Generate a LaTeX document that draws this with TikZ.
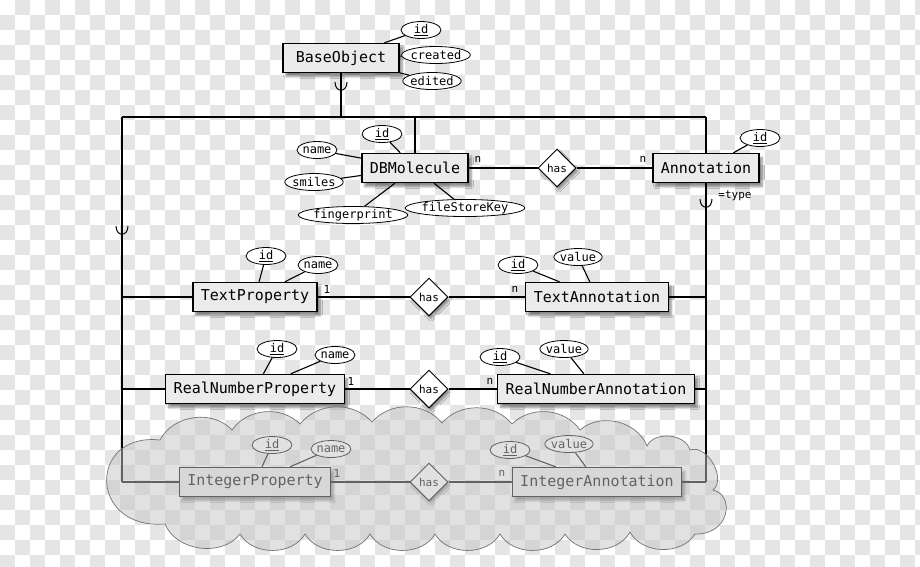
\documentclass[tikz,border=0pt]{standalone}
\usepackage{fontspec}
\setmainfont{DejaVu Sans Mono}
\usetikzlibrary{shapes.geometric,shadows.blur,positioning,calc}
\definecolor{boxgrey}{HTML}{EBEBEB}
\definecolor{checkgrey}{HTML}{E5E5E5}
\definecolor{cloudgrey}{HTML}{C4C4C4}

\begin{document}
\begin{tikzpicture}[x=1pt,y=-1pt,-,line width=1.1pt,
    entity/.style={rectangle,draw,line width=1.4pt,fill=boxgrey,inner xsep=8pt,minimum height=29pt,
        font=\fontsize{15}{15}\selectfont,
        blur shadow={shadow xshift=3pt,shadow yshift=-4pt,shadow blur steps=6,shadow opacity=45}},
    attr/.style={ellipse,draw,line width=0.8pt,fill=white,inner xsep=-1pt,inner ysep=0pt,
        minimum height=17pt,minimum width=40pt,font=\fontsize{12}{12}\selectfont},
    rel/.style={diamond,draw,line width=1pt,fill=white,aspect=1,inner sep=0pt,minimum size=38pt,
        font=\fontsize{11}{11}\selectfont,
        blur shadow={shadow xshift=2pt,shadow yshift=-3pt,shadow blur steps=5,shadow opacity=40}},
    card/.style={font=\fontsize{11}{11}\selectfont,inner sep=0pt},
    isamark/.pic={\draw[line width=1pt] (-6,-6) .. controls (-6,5) and (6,5) .. (6,-6);}]

    \useasboundingbox (0,0) rectangle (920,566);
    \clip (0,0) rectangle (920,566);

    % checkerboard
    \foreach \i in {1,3,...,61}
        \foreach \j in {0,2,...,36}
            \fill[checkgrey] ({15*\i},{15*\j}) rectangle ++(15,15);
    \foreach \i in {0,2,...,60}
        \foreach \j in {1,3,...,37}
            \fill[checkgrey] ({15*\i},{15*\j}) rectangle ++(15,15);

    % frame of the hierarchy
    \coordinate (topL) at (122,117);
    \coordinate (topR) at (706,117);
    \coordinate (botL) at (122,482);
    \coordinate (botR) at (706,482);

    \node[entity,minimum width=116pt] (base) at (341,58) {BaseObject};
    \node[attr] (baseid) at (421,30) {\underline{id}};
    \node[attr] (basecreated) at (436,55) {created};
    \node[attr] (baseedited) at (432,81) {edited};

    \node[entity] (mol) at (415,168) {DBMolecule};
    \node[attr] (molid) at (382,134) {\underline{id}};
    \node[attr] (molname) at (317,150) {name};
    \node[attr] (molsmiles) at (314,182) {smiles};
    \node[attr] (molfp) at (353,215) {fingerprint};
    \node[attr] (molkey) at (465,208) {fileStoreKey};
    \node[rel] (hasmol) at (557,168) {has};
    \node[entity] (annot) at (706,168) {Annotation};
    \node[attr] (annotid) at (760,138) {\underline{id}};
    \node[card] (nmol) at (478,159) {n};
    \node[card] (nannot) at (643,159) {n};
    \node[card] (typelbl) at (735,196) {=type};

    \node[entity] (tprop) at (255,297) {TextProperty};
    \node[attr] (tpropid) at (266,256) {\underline{id}};
    \node[attr] (tpropname) at (318,265) {name};
    \node[rel] (hast) at (429,297) {has};
    \node[entity] (tann) at (597,297) {TextAnnotation};
    \node[attr] (tannid) at (518,265) {\underline{id}};
    \node[attr] (tannval) at (578,257) {value};
    \node[card] (onet) at (327,289) {1};
    \node[card] (nt) at (515,289) {n};

    \node[entity] (rprop) at (255,389) {RealNumberProperty};
    \node[attr] (rpropid) at (277,349) {\underline{id}};
    \node[attr] (rpropname) at (335,355) {name};
    \node[rel] (hasr) at (429,389) {has};
    \node[entity] (rann) at (596,389) {RealNumberAnnotation};
    \node[attr] (rannid) at (500,357) {\underline{id}};
    \node[attr] (rannval) at (564,349) {value};
    \node[card] (oner) at (351,381) {1};
    \node[card] (nr) at (490,381) {n};

    \node[entity] (iprop) at (255,482) {IntegerProperty};
    \node[attr] (ipropid) at (272,445) {\underline{id}};
    \node[attr] (ipropname) at (331,449) {name};
    \node[rel] (hasi) at (429,482) {has};
    \node[entity] (iann) at (597,482) {IntegerAnnotation};
    \node[attr] (iannid) at (510,450) {\underline{id}};
    \node[attr] (iannval) at (569,444) {value};
    \node[card] (onei) at (337,473) {1};
    \node[card] (ni) at (502,473) {n};

    \path
        (topL) edge (topR)
        (topL) edge (botL)
        (base) edge (base |- topL)
        (mol) edge (mol |- topL)
        (annot) edge (annot |- topL)
        (annot) edge (botR)
        (base) edge (baseid) edge (basecreated) edge (baseedited)
        (mol) edge (molid) edge (molname) edge (molsmiles) edge (molfp) edge (molkey)
        (mol) edge (hasmol) (hasmol) edge (annot)
        (annot) edge (annotid)
        (tprop) edge (tprop -| topL) edge (tpropid) edge (tpropname) edge (hast)
        (hast) edge (tann)
        (tann) edge (tann -| topR) edge (tannid) edge (tannval)
        (rprop) edge (rprop -| topL) edge (rpropid) edge (rpropname) edge (hasr)
        (hasr) edge (rann)
        (rann) edge (rann -| topR) edge (rannid) edge (rannval)
        (iprop) edge (botL) edge (ipropid) edge (ipropname) edge (hasi)
        (hasi) edge (iann)
        (iann) edge (botR) edge (iannid) edge (iannval)
        ;

    \pic at (341,88) {isamark};
    \pic at (122,232) {isamark};
    \pic at (706,205) {isamark};

    % cloud over the integer row
    \draw[draw=black!55,line width=0.7pt,fill=cloudgrey,fill opacity=0.5]
        (160,440) to[bend left=55] (232,430) to[bend left=50] (300,424)
        to[bend left=50] (372,422) to[bend left=50] (442,423) to[bend left=50] (512,424)
        to[bend left=50] (580,430) to[bend left=55] (647,446) to[bend left=70] (690,450)
        to[bend left=80] (713,490) .. controls (735,495) and (730,535) .. (695,534)
        to[bend left=60] (630,532) to[bend left=60] (565,534) to[bend left=60] (500,534)
        to[bend left=60] (435,534) to[bend left=60] (370,534) to[bend left=60] (305,534)
        to[bend left=60] (240,534) to[bend left=60] (165,524)
        .. controls (88,530) and (88,432) .. (160,440) -- cycle;
\end{tikzpicture}
\end{document}
